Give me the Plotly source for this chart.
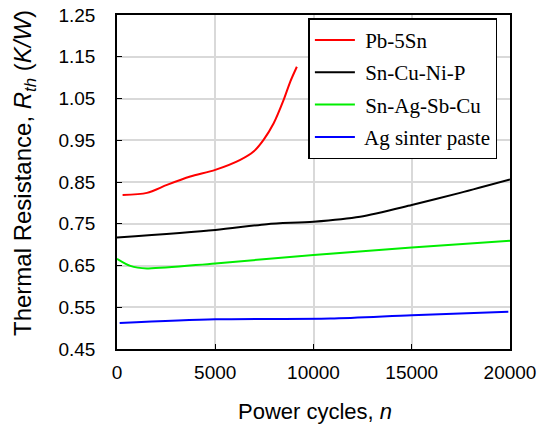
import plotly.graph_objects as go

# Data
pb_x = [285, 1525, 2543, 3730, 5000, 6272, 6950, 7458, 7967, 8475, 8814, 9153]
pb_y = [0.819, 0.824, 0.843, 0.863, 0.879, 0.903, 0.923, 0.951, 0.990, 1.046, 1.090, 1.126]

sncu_x = [0, 5000, 7630, 10000, 12373, 15000, 17460, 20000]
sncu_y = [0.717, 0.735, 0.749, 0.755, 0.767, 0.795, 0.824, 0.856]

snag_x = [0, 678, 1525, 5000, 10000, 15000, 20000]
snag_y = [0.666, 0.649, 0.643, 0.655, 0.675, 0.693, 0.709]

ag_x = [135, 5000, 10850, 15000, 19915]
ag_y = [0.512, 0.521, 0.523, 0.531, 0.539]

x_ticks = [0, 5000, 10000, 15000, 20000]
x_ticklabels = ["0", "5000", "10000", "15000", "20000"]

y_title = "Thermal Resistance, <i>R</i><sub><i>th</i></sub> (<i>K/W</i>)"
x_title = "Power cycles, <i>n</i>"

series = [
    ("Pb-5Sn", pb_x, pb_y, "#ff0000"),
    ("Sn-Cu-Ni-P", sncu_x, sncu_y, "#000000"),
    ("Sn-Ag-Sb-Cu", snag_x, snag_y, "#00ee00"),
    ("Ag sinter paste", ag_x, ag_y, "#0000ff"),
]

fig = go.Figure()
for i, (name, xs, ys, col) in enumerate(series):
    fig.add_trace(go.Scatter(
        x=xs, y=ys, mode="lines", name=" " + name,
        line=dict(color=col, width=2, shape="spline", smoothing=0.8),
        legendgroup=str(i),
    ))

fig.update_layout(
    width=547, height=426,
    margin=dict(l=117, r=37, t=15, b=77),
    paper_bgcolor="white", plot_bgcolor="white",
    font=dict(family="Liberation Sans, Arial", color="black"),
    showlegend=True,
    legend=dict(
        x=0.487, y=0.99, xanchor="left", yanchor="top",
        bgcolor="white", bordercolor="black", borderwidth=1.5,
        font=dict(family="Liberation Serif, Times New Roman", size=21, color="black"),
        tracegroupgap=2, traceorder="grouped",
        itemwidth=40,
    ),
    annotations=[
        dict(
            text=y_title, textangle=-90, showarrow=False,
            xref="paper", yref="paper", x=-0.234, y=0.527,
            xanchor="center", yanchor="middle",
            font=dict(size=24, family="Liberation Sans, Arial", color="black"),
        ),
        dict(
            text=x_title, showarrow=False,
            xref="paper", yref="paper", x=0.504, y=-0.186,
            xanchor="center", yanchor="middle",
            font=dict(size=22, family="Liberation Sans, Arial", color="black"),
        ),
    ],
)

fig.update_xaxes(
    range=[0, 20000], tickvals=x_ticks, ticktext=x_ticklabels,
    ticks="inside", ticklen=5, tickcolor="black",
    showline=True, linecolor="black", linewidth=1.5, mirror=True,
    showgrid=True, gridcolor="#d9d9d9", gridwidth=1.5,
    zeroline=False, automargin=False,
    tickfont=dict(size=19),
    ticklabelstandoff=5,
)
fig.update_yaxes(
    range=[0.45, 1.25], tick0=0.45, dtick=0.1, tickformat=".2f",
    ticks="inside", ticklen=5, tickcolor="black",
    showline=True, linecolor="black", linewidth=1.5, mirror=True,
    showgrid=True, gridcolor="#d9d9d9", gridwidth=1.5,
    zeroline=False, automargin=False,
    tickfont=dict(size=19),
    ticklabelstandoff=16,
)

fig.write_html("out.html")
